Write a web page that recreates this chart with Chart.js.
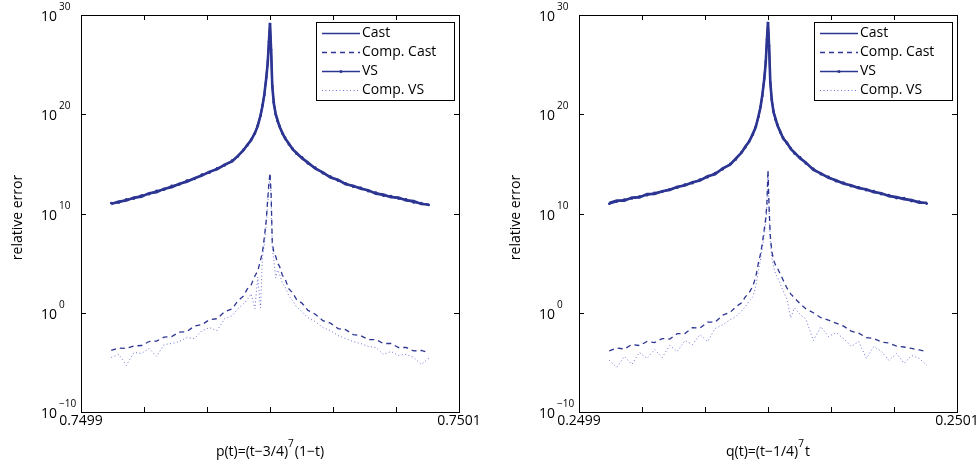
<!DOCTYPE html>
<html lang="en">
<head>
<meta charset="UTF-8">
<title>Relative error near a multiple root</title>
<script src="https://cdn.jsdelivr.net/npm/chart.js"></script>
<style>
  body { margin: 0; background: #fff; }
  .panel { position: absolute; top: 0; }
</style>
</head>
<body>
<div class="panel" style="left:0"><canvas id="pChart" width="488" height="464"></canvas></div>
<div class="panel" style="left:488px"><canvas id="qChart" width="489" height="464"></canvas></div>
<script>
// sample positions: (t - root) in units of 1e-6
const offsets = [
  -84, -80, -76, -72, -68, -64, -60, -56, -52, -48,
  -44, -40, -36, -32, -28, -24, -20, -17, -14, -12,
  -10, -8, -6.5, -5, -4, -3, -2, -1.2, -0.6, 0,
  0.6, 1.2, 2, 3, 4, 5, 6.5, 8, 10, 12,
  14, 17, 20, 24, 28, 32, 36, 40, 44, 48,
  52, 56, 60, 64, 68, 72, 76, 80, 84
];
const xTickValues = [-100, -200 / 3, -100 / 3, 0, 100 / 3, 200 / 3, 100];
const pTickLabels = ['0.7499', '', '', '', '', '', '0.7501'];
const qTickLabels = ['0.2499', '', '', '', '', '', '0.2501'];
const yDecades = [-10, 0, 10, 20, 30];
const seriesNames = ['Cast', 'Comp. Cast', 'VS', 'Comp. VS'];

// log10 of the relative error, p(t) = (t-3/4)^7 (1-t)
const pCast = [
  10.95, 11.2, 11.3, 11.6, 11.7, 12.05, 12.15, 12.5, 12.65, 13.0,
  13.2, 13.55, 13.82, 14.22, 14.45, 14.92, 15.25, 15.8, 16.38, 16.92,
  17.38, 18.12, 18.8, 19.9, 20.8, 22.0, 23.6, 25.2, 27.2, 29.2,
  26.4, 22.9, 21.1, 20.05, 19.4, 18.75, 18.15, 17.55, 17.05, 16.45,
  16.12, 15.55, 15.15, 14.52, 14.15, 13.62, 13.4, 12.95, 12.8, 12.5,
  12.35, 12.0, 11.9, 11.65, 11.6, 11.32, 11.25, 10.95, 10.9
];
const pCompCast = [
  -3.8, -3.55, -3.6, -3.35, -3.3, -2.9, -2.85, -2.45, -2.4, -1.95,
  -1.9, -1.35, -1.2, -0.7, -0.6, 0.1, 0.4, 1.2, 1.7, 2.4,
  2.8, 3.7, 4.2, 5.3, 6.1, 7.6, 9.3, 11.5, 13.0, 14.1,
  11.9, 7.1, 6.1, 5.7, 5.0, 4.7, 3.8, 3.4, 2.4, 2.0,
  1.35, 0.95, 0.25, -0.15, -0.8, -1.05, -1.6, -1.7, -2.2, -2.3,
  -2.7, -2.7, -3.1, -3.1, -3.5, -3.5, -3.85, -3.8, -4.0
];
const pVs = [
  11.05, 11.1, 11.42, 11.5, 11.82, 11.95, 12.28, 12.4, 12.78, 12.92,
  13.32, 13.48, 13.92, 14.12, 14.55, 14.85, 15.35, 15.75, 16.45, 16.85,
  17.45, 18.05, 18.88, 19.85, 20.9, 21.95, 23.7, 25.3, 27.3, 29.1,
  26.5, 22.8, 21.2, 19.95, 19.3, 18.85, 18.05, 17.65, 16.95, 16.55,
  16.02, 15.65, 15.05, 14.62, 14.05, 13.72, 13.3, 13.05, 12.7, 12.6,
  12.25, 12.1, 11.8, 11.75, 11.5, 11.42, 11.12, 11.05, 10.85
];
const pCompVs = [
  -4.5, -4.2, -5.3, -4.0, -4.1, -3.6, -4.4, -3.2, -3.1, -2.9,
  -2.5, -2.6, -1.8, -1.5, -1.8, -0.6, -0.3, 0.4, 0.9, 1.3,
  1.9, 0.4, 3.6, 0.5, 5.6, 6.9, 8.8, 11.0, 12.6, 13.8,
  11.5, 6.5, 5.4, 3.5, 4.3, 3.9, 3.0, 2.6, 1.7, 1.2,
  0.6, 0.1, -0.5, -0.9, -1.5, -1.8, -2.3, -2.6, -2.9, -3.1,
  -3.4, -3.5, -4.2, -3.9, -4.3, -4.2, -4.5, -5.2, -4.6
];

// log10 of the relative error, q(t) = (t-1/4)^7 t
const qCast = [
  11.05, 11.3, 11.3, 11.6, 11.62, 11.95, 11.98, 12.25, 12.38, 12.7,
  12.82, 13.15, 13.32, 13.75, 13.95, 14.55, 14.92, 15.55, 16.12, 16.75,
  17.22, 18.05, 18.68, 19.85, 20.68, 21.95, 23.5, 25.2, 27.4, 29.3,
  26.8, 23.3, 21.4, 20.15, 19.55, 18.85, 18.25, 17.55, 17.15, 16.5,
  16.15, 15.55, 15.15, 14.4, 14.05, 13.6, 13.35, 13.0, 12.85, 12.55,
  12.45, 12.15, 12.05, 11.75, 11.65, 11.45, 11.35, 11.1, 11.08
];
const qCompCast = [
  -3.85, -3.55, -3.65, -3.2, -3.3, -2.9, -3.0, -2.6, -2.65, -2.1,
  -2.1, -1.5, -1.55, -0.95, -0.95, -0.25, 0.05, 0.6, 1.0, 1.6,
  2.0, 2.7, 3.6, 5.1, 5.9, 7.0, 8.4, 9.5, 10.9, 14.4,
  10.5, 7.8, 6.2, 5.3, 4.8, 4.5, 3.9, 3.3, 2.5, 1.9,
  1.5, 0.9, 0.4, 0.0, -0.5, -0.75, -1.05, -1.35, -1.85, -2.05,
  -2.5, -2.6, -2.95, -3.05, -3.35, -3.45, -3.6, -3.75, -3.9
];
const qVs = [
  10.98, 11.2, 11.4, 11.52, 11.72, 11.85, 12.08, 12.18, 12.45, 12.6,
  12.92, 13.05, 13.42, 13.65, 14.08, 14.45, 15.0, 15.45, 16.2, 16.65,
  17.3, 17.95, 18.75, 19.75, 20.75, 21.85, 23.6, 25.3, 27.5, 29.2,
  26.9, 23.2, 21.5, 20.25, 19.45, 18.95, 18.15, 17.65, 17.05, 16.6,
  16.05, 15.65, 15.05, 14.5, 13.95, 13.7, 13.25, 13.1, 12.75, 12.65,
  12.35, 12.25, 11.95, 11.85, 11.55, 11.55, 11.25, 11.2, 11.0
];
const qCompVs = [
  -4.8, -5.5, -4.4, -5.2, -4.0, -4.6, -3.7, -4.5, -3.3, -3.9,
  -2.8, -3.2, -2.2, -2.9, -1.6, -1.2, -0.7, -0.4, 0.2, 0.6,
  1.2, 1.6, 2.6, 4.3, 5.3, 6.5, 7.8, 9.0, 10.6, 14.0,
  10.1, 7.2, 5.6, 4.6, 3.9, 3.6, 2.9, 2.2, 1.4, -0.5,
  0.5, -0.2, -0.6, -2.8, -1.4, -2.4, -2.0, -2.6, -3.4, -2.9,
  -4.6, -3.4, -3.9, -4.8, -4.1, -5.1, -4.3, -4.6, -5.3
];

const BLUE = '#2c3592';
const FONT = '"Open Sans", "DejaVu Sans", sans-serif';

const styles = [
  { borderColor: BLUE, borderWidth: 2.6, pointRadius: 0 },
  { borderColor: BLUE, borderWidth: 1.3, borderDash: [5, 4], pointRadius: 0 },
  { borderColor: BLUE, borderWidth: 1.8, pointRadius: 1.3, pointBackgroundColor: BLUE, pointBorderWidth: 0 },
  { borderColor: 'rgba(70,80,200,0.8)', borderWidth: 1, borderDash: [1, 2.5], pointRadius: 0 }
];

function makeDatasets(logSeries) {
  return logSeries.map((logs, k) => Object.assign({
    label: seriesNames[k],
    data: offsets.map((x, i) => ({ x: x, y: Math.pow(10, logs[i]) })),
    tension: 0,
    fill: false
  }, styles[k]));
}

// box, inward ticks, superscript labels, axis titles and legend
function framePlugin(titleParts) {
  return {
    id: 'frame',
    afterDraw(chart) {
      const ctx = chart.ctx;
      const a = chart.chartArea;
      const xs = chart.scales.x, ys = chart.scales.y;
      ctx.save();
      ctx.strokeStyle = '#000';
      ctx.lineWidth = 1;
      ctx.setLineDash([]);
      ctx.strokeRect(a.left + 0.5, a.top + 0.5, a.right - a.left, a.bottom - a.top);

      ctx.beginPath();
      xTickValues.forEach(v => {
        const px = Math.round(xs.getPixelForValue(v)) + 0.5;
        ctx.moveTo(px, a.top); ctx.lineTo(px, a.top + 5);
        ctx.moveTo(px, a.bottom); ctx.lineTo(px, a.bottom - 5);
      });
      yDecades.forEach(d => {
        const py = Math.round(ys.getPixelForValue(Math.pow(10, d))) + 0.5;
        ctx.moveTo(a.left, py); ctx.lineTo(a.left + 5, py);
        ctx.moveTo(a.right, py); ctx.lineTo(a.right - 5, py);
      });
      ctx.stroke();

      // y tick labels as 10 with a raised exponent
      ctx.fillStyle = '#000';
      yDecades.forEach(d => {
        const py = ys.getPixelForValue(Math.pow(10, d));
        ctx.font = '14px ' + FONT;
        ctx.textAlign = 'right';
        ctx.textBaseline = 'alphabetic';
        ctx.fillText('10', a.left - 24, py + 6);
        ctx.font = '10px ' + FONT;
        ctx.textAlign = 'left';
        ctx.fillText(d < 0 ? '\u2212' + (-d) : String(d), a.left - 22, py - 5);
      });

      // y title
      ctx.font = '14px ' + FONT;
      ctx.save();
      ctx.translate(a.left - 63, (a.top + a.bottom) / 2 + 4);
      ctx.rotate(-Math.PI / 2);
      ctx.textAlign = 'center';
      ctx.textBaseline = 'middle';
      ctx.fillText('relative error', 0, 0);
      ctx.restore();

      // x title with superscript
      const big = '14px ' + FONT, small = '10px ' + FONT;
      ctx.textAlign = 'left';
      ctx.textBaseline = 'alphabetic';
      ctx.font = big; const w0 = ctx.measureText(titleParts[0]).width;
      ctx.font = small; const w1 = ctx.measureText(titleParts[1]).width;
      ctx.font = big; const w2 = ctx.measureText(titleParts[2]).width;
      let tx = (a.left + a.right) / 2 - (w0 + w1 + w2 + 1) / 2;
      const base = 456;
      ctx.font = big; ctx.fillText(titleParts[0], tx, base); tx += w0;
      ctx.font = small; ctx.fillText(titleParts[1], tx, base - 9); tx += w1 + 1;
      ctx.font = big; ctx.fillText(titleParts[2], tx, base);

      // legend
      const bw = 138, bh = 78;
      const bx = a.right - 5 - bw, by = a.top + 7;
      ctx.fillStyle = '#fff';
      ctx.fillRect(bx, by, bw, bh);
      ctx.strokeStyle = '#000';
      ctx.lineWidth = 1;
      ctx.strokeRect(bx + 0.5, by + 0.5, bw, bh);
      chart.data.datasets.forEach((ds, i) => {
        const ry = by + 11.5 + i * 19;
        ctx.strokeStyle = ds.borderColor;
        ctx.lineWidth = Math.min(ds.borderWidth, 1.4);
        ctx.setLineDash(ds.borderDash || []);
        ctx.beginPath();
        ctx.moveTo(bx + 6, ry); ctx.lineTo(bx + 44, ry);
        ctx.stroke();
        ctx.setLineDash([]);
        if (ds.pointRadius > 0) {
          ctx.fillStyle = ds.borderColor;
          ctx.beginPath();
          ctx.arc(bx + 25, ry, 1.5, 0, Math.PI * 2);
          ctx.fill();
        }
        ctx.fillStyle = '#000';
        ctx.font = '14px ' + FONT;
        ctx.textBaseline = 'middle';
        ctx.fillText(ds.label, bx + 46, ry);
      });
      ctx.restore();
    }
  };
}

function makeChart(id, logSeries, tickLabels, titleParts, plotLeft, padRight) {
  return new Chart(document.getElementById(id), {
    type: 'line',
    data: { datasets: makeDatasets(logSeries) },
    options: {
      responsive: false,
      animation: false,
      layout: { padding: { left: 0, top: 15, right: padRight, bottom: 0 } },
      plugins: { legend: { display: false }, tooltip: { enabled: false } },
      scales: {
        x: {
          type: 'linear', min: -100, max: 100,
          grid: { display: false }, border: { display: false },
          afterBuildTicks: s => { s.ticks = xTickValues.map(v => ({ value: v })); },
          afterFit: s => { s.height = 52; },
          ticks: {
            autoSkip: false, maxRotation: 0, padding: -7, color: '#000',
            font: { family: FONT, size: 14 },
            callback: (v, i) => tickLabels[i]
          }
        },
        y: {
          type: 'logarithmic', min: 1e-10, max: 1e30,
          grid: { display: false }, border: { display: false },
          ticks: { display: false },
          afterFit: s => { s.width = plotLeft; }
        }
      }
    },
    plugins: [framePlugin(titleParts)]
  });
}

makeChart('pChart', [pCast, pCompCast, pVs, pCompVs], pTickLabels,
  ['p(t)=(t\u22123/4)', '7', '(1\u2212t)'], 81, 29);
makeChart('qChart', [qCast, qCompCast, qVs, qCompVs], qTickLabels,
  ['q(t)=(t\u22121/4)', '7', 't'], 91, 20);
</script>
</body>
</html>
